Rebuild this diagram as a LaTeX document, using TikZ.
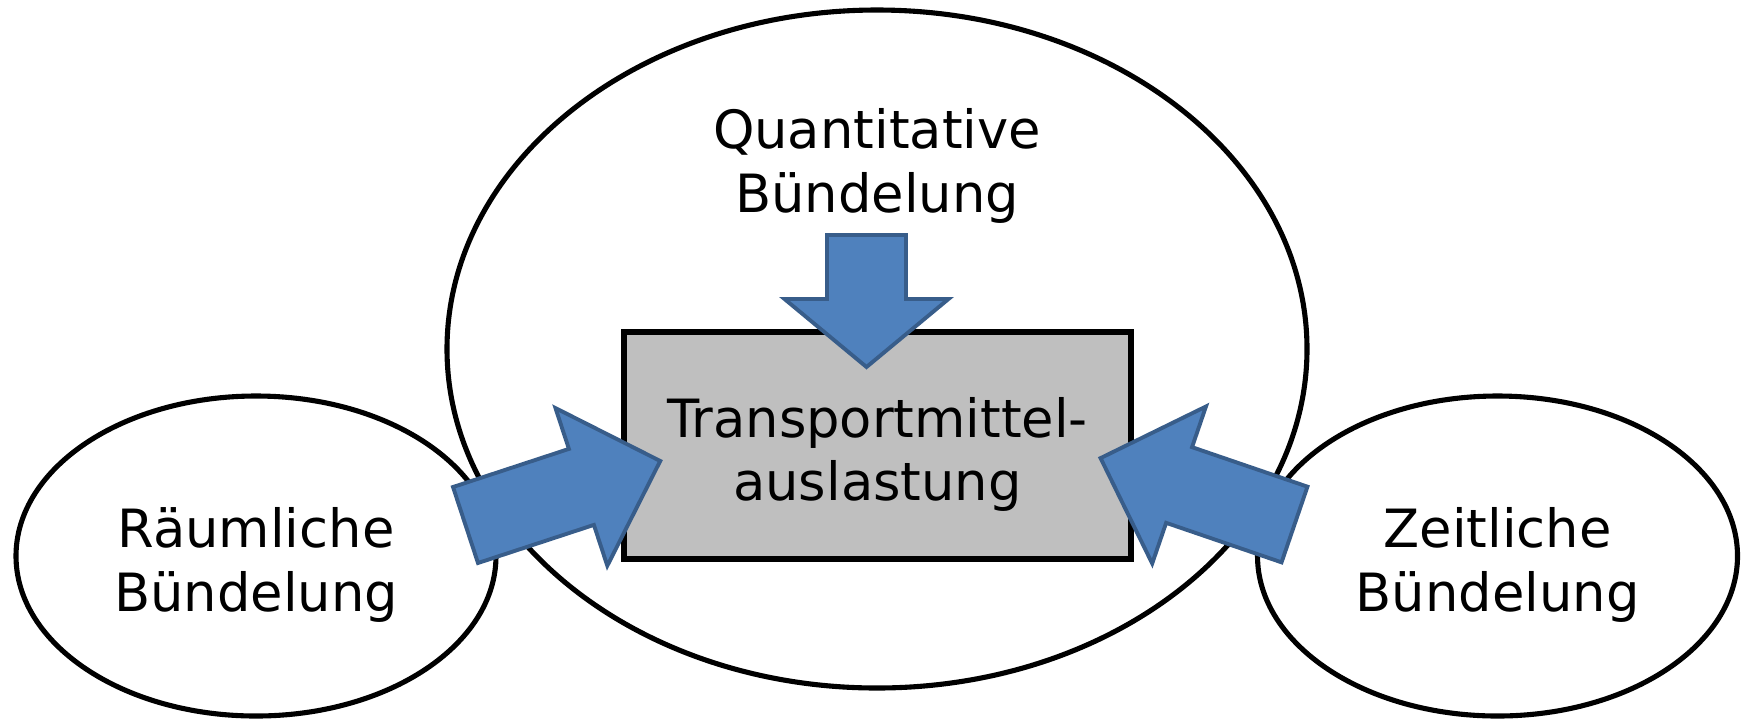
\documentclass[tikz,border=0pt]{standalone}
\usepackage{fontspec}
\setmainfont{DejaVu Sans}
\usetikzlibrary{shapes.geometric}

\definecolor{arrowblue}{HTML}{4F81BD}
\definecolor{arrowedge}{HTML}{385D8A}
\definecolor{boxgray}{HTML}{BFBFBF}
\newcommand{\txtstrut}{\rule{0pt}{16.5pt}}

\begin{document}
\begin{tikzpicture}[
  txt/.style={font=\fontsize{15}{18}\selectfont, align=center},
  bundle/.style={draw, ellipse, line width=1.45pt, inner sep=0pt, txt},
  target/.style={
    draw,
    rectangle,
    line width=1.45pt,
    fill=boxgray,
    minimum width=5.07cm,
    minimum height=2.27cm,
    inner sep=0pt,
    txt
  },
  blockarrow/.style={draw=arrowedge, fill=arrowblue, line width=1.1pt, line join=miter}
]
\useasboundingbox (0,0) rectangle (17.41,-7.21);

% Bundling types
\node[bundle,minimum width=8.60cm,minimum height=6.78cm] (quant) at (8.77,-3.49) {};
\node[bundle,minimum width=4.80cm,minimum height=3.20cm] (raeum) at (2.56,-5.56) {\txtstrut Räumliche\\Bündelung};
\node[bundle,minimum width=4.80cm,minimum height=3.20cm] (zeit) at (14.975,-5.56) {\txtstrut Zeitliche\\Bündelung};
\node[txt] (quant_txt) at (8.77,-1.66) {Quantitative\\Bündelung};

% Utilisation
\node[target] (auslast) at (8.775,-4.455) {\txtstrut Transportmittel-\\auslastung};

% Block arrows (tail points)
\coordinate (quant_tail) at (8.665,-2.35);
\coordinate (raeum_tail) at (4.655,-5.25);
\coordinate (zeit_tail) at (12.945,-5.245);

\draw[blockarrow,shift={(quant_tail)},rotate=-90]
  (0,0.395) -- (0.64,0.395) -- (0.64,0.82) -- (1.32,0) -- (0.64,-0.82) -- (0.64,-0.395) -- (0,-0.395) -- cycle;
\draw[blockarrow,shift={(raeum_tail)},rotate=18.2]
  (0,0.4) -- (1.22,0.4) -- (1.22,0.83) -- (2.05,0) -- (1.22,-0.83) -- (1.22,-0.4) -- (0,-0.4) -- cycle;
\draw[blockarrow,shift={(zeit_tail)},rotate=161.1]
  (0,0.4) -- (1.22,0.4) -- (1.22,0.83) -- (2.05,0) -- (1.22,-0.83) -- (1.22,-0.4) -- (0,-0.4) -- cycle;

\end{tikzpicture}
\end{document}
